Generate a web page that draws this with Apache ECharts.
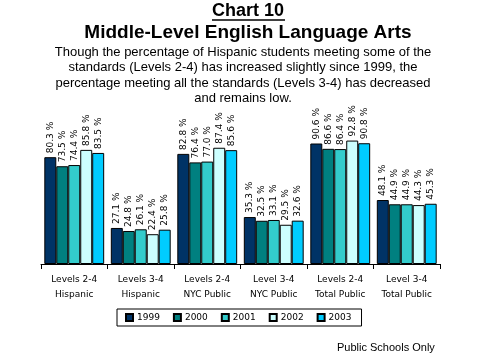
<!DOCTYPE html>
<html><head><meta charset="utf-8">
<script src="https://cdn.jsdelivr.net/npm/echarts@6/dist/echarts.min.js"></script>
<style>html,body{margin:0;padding:0;background:#fff}#c{width:479px;height:359px}</style>
</head><body><div id="c"></div>
<script>
const categories = ['Levels 2-4\nHispanic','Levels 3-4\nHispanic','Levels 2-4\nNYC Public','Level 3-4\nNYC Public','Levels 2-4\nTotal Public','Level 3-4\nTotal Public'];
const years = ['1999','2000','2001','2002','2003'];
const v1999 = [80.3, 27.1, 82.8, 35.3, 90.6, 48.1];
const v2000 = [73.5, 24.8, 76.4, 32.5, 86.6, 44.9];
const v2001 = [74.4, 26.1, 77.0, 33.1, 86.4, 44.9];
const v2002 = [85.8, 22.4, 87.4, 29.5, 92.8, 44.3];
const v2003 = [83.5, 25.8, 85.6, 32.6, 90.8, 45.3];
const colors = ['#003366','#008080','#33CCCC','#CCFFFF','#00CCFF'];
const allVals = [v1999, v2000, v2001, v2002, v2003];

const chart = echarts.init(document.getElementById('c'));
const f = 'Liberation Sans, Arial, sans-serif';
const subLines = ['Though the percentage of Hispanic students meeting some of the',
  'standards (Levels 2-4) has increased slightly since 1999, the',
  'percentage meeting all the standards (Levels 3-4) has decreased',
  'and remains low.'];
const cx = 248;
const g = [
  {type: 'text', x: cx, y: 11, style: {text: 'Chart 10', font: 'bold 18px ' + f, fill: '#000', textAlign: 'center', textVerticalAlign: 'middle'}},
  {type: 'line', shape: {x1: 212, y1: 20, x2: 285, y2: 20}, style: {stroke: '#000', lineWidth: 1.5}},
  {type: 'text', x: cx, y: 33, style: {text: 'Middle-Level English Language Arts', font: 'bold 19px ' + f, fill: '#000', textAlign: 'center', textVerticalAlign: 'middle'}},
  {type: 'text', x: 337, y: 348, style: {text: 'Public Schools Only', font: '11px ' + f, fill: '#000', textAlign: 'left', textVerticalAlign: 'middle'}}
];
subLines.forEach((t, i) => g.push({type: 'text', x: 243, y: 52 + i * 15.5, style: {text: t, font: '13px ' + f, fill: '#000', textAlign: 'center', textVerticalAlign: 'middle'}}));

chart.setOption({
  animation: false,
  graphic: g,
  legend: {
    left: 117, top: 309, itemWidth: 7, itemHeight: 7, itemGap: 13, padding: [4, 10, 4, 8],
    borderColor: '#000', borderWidth: 1, icon: 'rect',
    textStyle: {fontFamily: 'DejaVu Sans', fontSize: 9, color: '#000', padding: [0,0,0,-1]},
    data: years
  },
  grid: {left: 41, right: 39, top: 131, bottom: 95},
  xAxis: {
    type: 'category', data: categories,
    axisLine: {lineStyle: {color: '#000'}},
    axisTick: {show: true, length: 5, lineStyle: {color: '#000'}},
    axisLabel: {fontFamily: 'DejaVu Sans', fontSize: 9, color: '#000', lineHeight: 15, margin: 8, interval: 0}
  },
  yAxis: {type: 'value', min: 0, max: 100, show: false, splitLine: {show: false}},
  series: allVals.map((vals, i) => ({
    name: years[i], type: 'bar', data: vals, barGap: '0%', barCategoryGap: '10%',
    itemStyle: {color: colors[i], borderColor: '#000', borderWidth: 1},
    label: {show: true, position: 'top', rotate: 90, align: 'left', verticalAlign: 'middle', distance: 4,
      fontFamily: 'DejaVu Sans', fontSize: 9, color: '#000',
      formatter: p => p.value.toFixed(1) + ' %'}
  }))
});
</script></body></html>
